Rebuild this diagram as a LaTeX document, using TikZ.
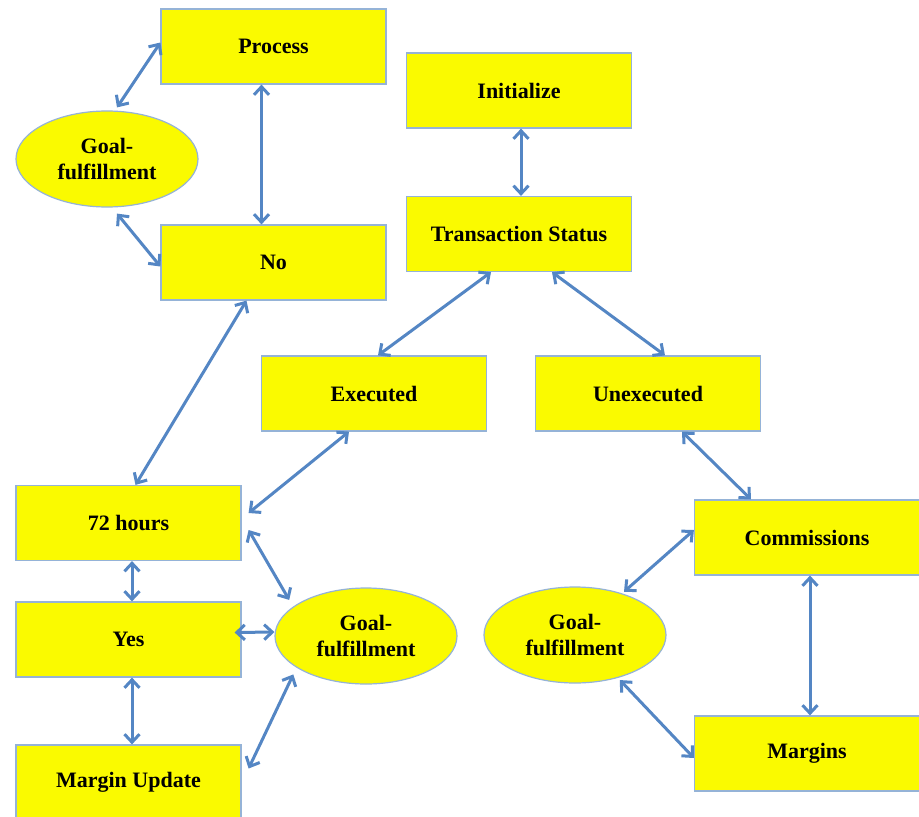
\documentclass[tikz,border=0pt]{standalone}
\usepackage{fontspec}
\setmainfont{Liberation Serif}
\usetikzlibrary{arrows.meta,shapes.geometric}
\definecolor{boxyellow}{RGB}{250,250,0}
\definecolor{boxedge}{RGB}{149,179,215}
\definecolor{linkblue}{RGB}{84,134,196}
\tikzset{
  box/.style={rectangle, draw=boxedge, line width=1.2pt, fill=boxyellow,
    minimum width=225pt, minimum height=75pt, inner sep=0pt,
    font=\fontsize{22}{24}\selectfont\bfseries},
  goal/.style={ellipse, draw=boxedge, line width=1.2pt, fill=boxyellow,
    minimum width=182pt, minimum height=96pt, inner sep=0pt, align=center,
    font=\fontsize{22}{26}\selectfont\bfseries},
  link/.style={draw=linkblue, line width=3pt,
    {Straight Barb[length=8pt,width=15pt]}-{Straight Barb[length=8pt,width=15pt]}}
}
\begin{document}
\begin{tikzpicture}[x=1pt,y=-1pt]
\useasboundingbox (0,0) rectangle (919,817);
\fill[white] (0,0) rectangle (919,817);
\clip (0,0) rectangle (919,817);
% nodes
\node[box] (proc) at (273.5,46.5) {Process};
\node[goal] (g1) at (107,159) {Goal-\\fulfillment};
\node[box] (no) at (273.5,262.5) {No};
\node[box] (init) at (519,90.5) {Initialize};
\node[box] (ts) at (519,234) {Transaction Status};
\node[box] (exec) at (374,393.5) {Executed};
\node[box] (unex) at (648,393.5) {Unexecuted};
\node[box] (hrs) at (128.5,523) {72 hours};
\node[box] (yes) at (128.5,639.5) {Yes};
\node[box] (mu) at (128.5,782.5) {Margin Update};
\node[goal] (g2) at (366,636) {Goal-\\fulfillment};
\node[box] (comm) at (807,537.5) {Commissions};
\node[goal] (g3) at (575,635) {Goal-\\fulfillment};
\node[box] (marg) at (807,753.5) {Margins};
% connectors
\draw[link] ([xshift=10pt,yshift=3pt]g1.north) -- ([yshift=4pt]proc.west);
\draw[link] ([xshift=10pt,yshift=-6pt]g1.south) -- ([yshift=-4pt]no.west);
\draw[link] ([xshift=-12pt]proc.south) -- ([xshift=-12pt]no.north);
\draw[link] ([xshift=2pt]init.south) -- ([xshift=2pt]ts.north);
\draw[link] ([xshift=-28pt]ts.south) -- ([xshift=4pt]exec.north);
\draw[link] ([xshift=33pt]ts.south) -- ([xshift=17pt]unex.north);
\draw[link] ([xshift=-27pt]no.south) -- ([xshift=7pt]hrs.north);
\draw[link] ([xshift=-25pt]exec.south) -- ([xshift=7pt,yshift=10pt]hrs.east);
\draw[link] ([xshift=34pt]unex.south) -- ([xshift=-56pt]comm.north);
\draw[link] ([xshift=3.5pt]hrs.south) -- ([xshift=3.5pt]yes.north);
\draw[link] ([xshift=7pt,yshift=-7pt]hrs.east) -- ([xshift=-8pt,yshift=4pt]g2.155);
\draw[link] ([xshift=-7pt,yshift=7pt]yes.east) -- ([yshift=4pt]g2.west);
\draw[link] ([xshift=3.5pt]yes.south) -- ([xshift=3.5pt]mu.north);
\draw[link] ([xshift=-8pt,yshift=-4pt]g2.208) -- ([xshift=7pt,yshift=14pt]mu.east);
\draw[link] ([yshift=7.5pt]comm.west) -- ([xshift=-5pt,yshift=4pt]g3.36);
\draw[link] ([xshift=3pt]comm.south) -- ([xshift=3pt]marg.north);
\draw[link] ([xshift=-4pt,yshift=-4pt]g3.-40) -- ([yshift=-4.5pt]marg.west);
\end{tikzpicture}
\end{document}
